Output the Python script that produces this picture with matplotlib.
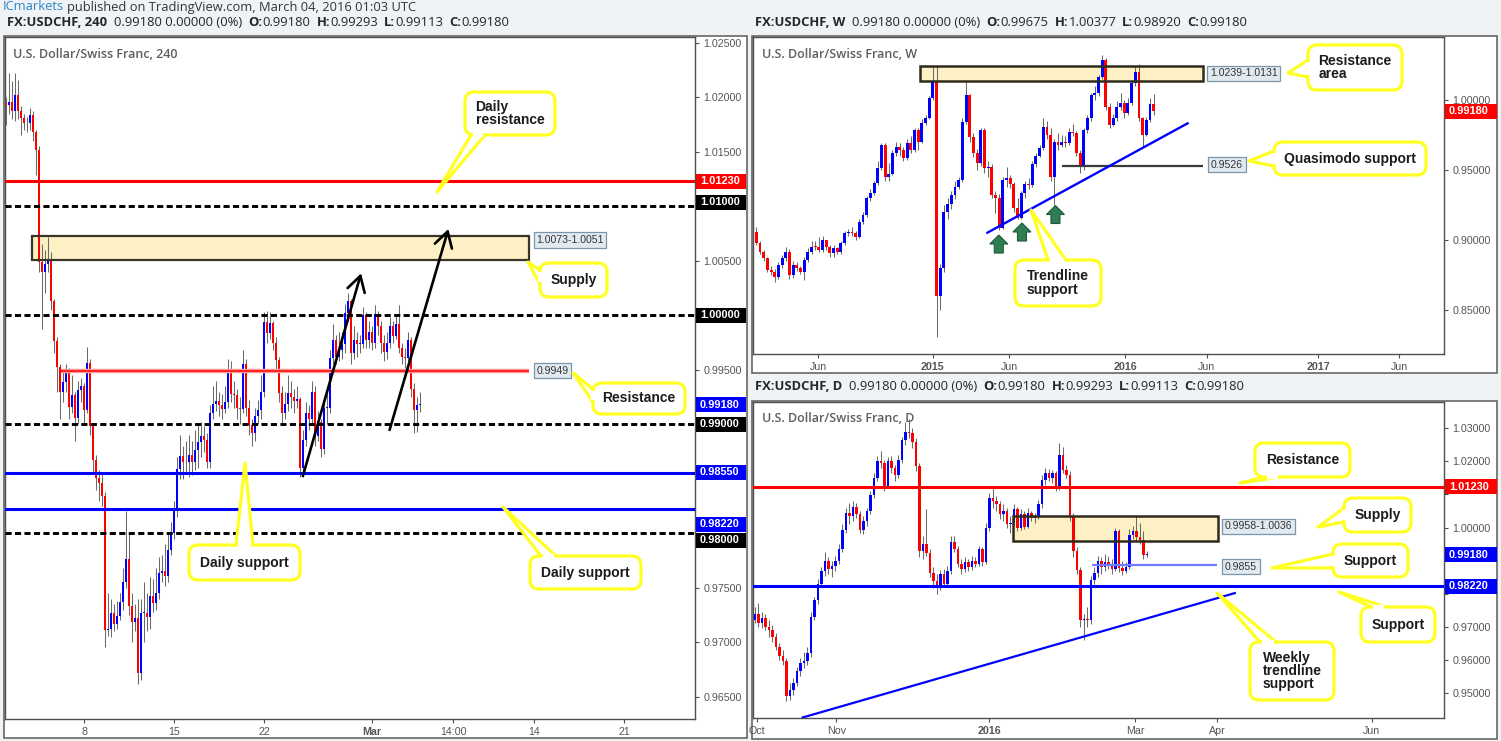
import matplotlib
matplotlib.use("Agg")
import matplotlib.pyplot as plt
import numpy as np
from matplotlib.patches import Rectangle, FancyBboxPatch, Polygon
from matplotlib.lines import Line2D
from matplotlib.transforms import IdentityTransform
from matplotlib.ticker import FuncFormatter

plt.rcParams['font.family'] = ['Liberation Sans', 'DejaVu Sans']

W, H = 1501, 741
PX = IdentityTransform()

# ---------------- 240 chart (x = 4h bar index, 0 = Feb 8 00:00) ----------------
h4_first = -26
h4_open0 = 1.0195
h4_close = [1.0193, 1.0196, 1.0187, 1.0202, 1.0187, 1.0181, 1.0176, 1.0176, 1.0184, 1.0168,
            1.0152, 1.0049, 1.0040, 1.0047, 1.0051, 1.0013, 0.9976, 0.9953, 0.9930, 0.9939,
            0.9948, 0.9916, 0.9927, 0.9906, 0.9931, 0.9935, 0.9913, 0.9956, 0.9898, 0.9867,
            0.9851, 0.9846, 0.9834, 0.9711, 0.9712, 0.9727, 0.9717, 0.9724, 0.9737, 0.9755,
            0.9776, 0.9733, 0.9719, 0.9722, 0.9672, 0.9727, 0.9727, 0.9723, 0.9742, 0.9736,
            0.9745, 0.9764, 0.9765, 0.9761, 0.9785, 0.9800, 0.9821, 0.9859, 0.9871, 0.9865,
            0.9865, 0.9872, 0.9865, 0.9876, 0.9884, 0.9889, 0.9886, 0.9865, 0.9910, 0.9919,
            0.9921, 0.9918, 0.9914, 0.9920, 0.9948, 0.9928, 0.9927, 0.9915, 0.9914, 0.9955,
            0.9915, 0.9899, 0.9892, 0.9908, 0.9913, 0.9930, 0.9994, 0.9984, 0.9993, 0.9975,
            0.9959, 0.9929, 0.9910, 0.9919, 0.9929, 0.9925, 0.9921, 0.9923, 0.9860, 0.9886,
            0.9910, 0.9905, 0.9930, 0.9889, 0.9902, 0.9877, 0.9915, 0.9915, 0.9961, 0.9977,
            0.9962, 0.9968, 0.9974, 1.0002, 1.0013, 0.9965, 0.9977, 0.9974, 0.9974, 1.0000,
            0.9977, 0.9985, 0.9975, 1.0001, 0.9990, 0.9975, 0.9966, 0.9975, 0.9990, 0.9981,
            0.9992, 0.9970, 0.9962, 0.9961, 0.9977, 0.9932, 0.9913, 0.9918, 0.9918]
h4_high = [1.0200, 1.0222, 1.0215, 1.0222, 1.0216, 1.0192, 1.0185, 1.0182, 1.0190, 1.0187,
           1.0170, 1.0155, 1.0065, 1.0060, 1.0072, 1.0058, 1.0015, 0.9980, 0.9955, 0.9950,
           0.9955, 0.9952, 0.9945, 0.9930, 0.9940, 0.9942, 0.9938, 0.9971, 0.9960, 0.9900,
           0.9872, 0.9858, 0.9855, 0.9838, 0.9745, 0.9740, 0.9735, 0.9738, 0.9745, 0.9768,
           0.9820, 0.9800, 0.9745, 0.9735, 0.9740, 0.9740, 0.9755, 0.9745, 0.9760, 0.9758,
           0.9768, 0.9778, 0.9780, 0.9790, 0.9800, 0.9810, 0.9830, 0.9870, 0.9890, 0.9880,
           0.9885, 0.9890, 0.9885, 0.9895, 0.9900, 0.9902, 0.9898, 0.9892, 0.9918, 0.9935,
           0.9940, 0.9930, 0.9928, 0.9935, 0.9960, 0.9958, 0.9940, 0.9932, 0.9925, 0.9968,
           0.9960, 0.9922, 0.9905, 0.9915, 0.9922, 0.9945, 1.0003, 1.0004, 1.0003, 0.9995,
           0.9980, 0.9962, 0.9935, 0.9930, 0.9945, 0.9940, 0.9932, 0.9935, 0.9925, 0.9895,
           0.9920, 0.9918, 0.9940, 0.9935, 0.9912, 0.9905, 0.9925, 0.9928, 0.9968, 0.9992,
           0.9982, 0.9985, 0.9985, 1.0010, 1.0020, 1.0015, 0.9990, 0.9985, 0.9982, 1.0008,
           1.0003, 0.9995, 0.9990, 1.0009, 1.0004, 0.9995, 0.9982, 0.9985, 0.9998, 0.9995,
           1.0001, 1.0009, 0.9975, 0.9970, 0.9985, 0.9980, 0.9938, 0.9925, 0.99293]
h4_low = [1.0175, 1.0185, 1.0180, 1.0178, 1.0180, 1.0165, 1.0170, 1.0168, 1.0170, 1.0160,
          1.0129, 1.0040, 0.9987, 1.0020, 1.0040, 1.0005, 0.9965, 0.9930, 0.9905, 0.9920,
          0.9930, 0.9905, 0.9910, 0.9885, 0.9900, 0.9920, 0.9900, 0.9910, 0.9890, 0.9855,
          0.9840, 0.9830, 0.9825, 0.9696, 0.9706, 0.9705, 0.9710, 0.9712, 0.9720, 0.9730,
          0.9750, 0.9725, 0.9700, 0.9710, 0.9662, 0.9665, 0.9700, 0.9710, 0.9712, 0.9728,
          0.9730, 0.9740, 0.9755, 0.9752, 0.9755, 0.9780, 0.9795, 0.9815, 0.9850, 0.9850,
          0.9855, 0.9852, 0.9853, 0.9858, 0.9860, 0.9870, 0.9875, 0.9860, 0.9860, 0.9905,
          0.9912, 0.9908, 0.9905, 0.9910, 0.9915, 0.9920, 0.9915, 0.9905, 0.9900, 0.9910,
          0.9908, 0.9890, 0.9880, 0.9885, 0.9900, 0.9905, 0.9925, 0.9975, 0.9978, 0.9968,
          0.9950, 0.9920, 0.9900, 0.9905, 0.9912, 0.9915, 0.9910, 0.9915, 0.9852, 0.9852,
          0.9880, 0.9895, 0.9900, 0.9880, 0.9885, 0.9870, 0.9873, 0.9900, 0.9910, 0.9955,
          0.9955, 0.9958, 0.9960, 0.9965, 0.9995, 0.9955, 0.9960, 0.9962, 0.9965, 0.9970,
          0.9970, 0.9970, 0.9968, 0.9970, 0.9982, 0.9965, 0.9958, 0.9960, 0.9970, 0.9975,
          0.9978, 0.9965, 0.9955, 0.9952, 0.9958, 0.9925, 0.9892, 0.9893, 0.99113]
h4_ticks = [0, 30, 60, 96, 123, 150, 180]
h4_ticklabels = ['8', '15', '22', 'Mar', '14:00', '14', '21']
h4_bold_ticks = ['Mar']
h4_dashed = [1.0100, 1.0000, 0.9900, 0.9800]
h4_daily_res = 1.0123
h4_daily_sup = [0.9855, 0.9822]
h4_res = 0.9949
h4_supply = (1.0051, 1.0073)

# ---------------- weekly chart (x = week index, 0 = first week of 2015) ----------------
wk_first = -48
wk_open0 = 0.9057
wk_close = [0.8974, 0.8914, 0.8866, 0.8783, 0.8771, 0.8735, 0.8819, 0.8866, 0.8914, 0.8747,
            0.8819, 0.8795, 0.8771, 0.8855, 0.8914, 0.8950, 0.8948, 0.8926, 0.8998, 0.8950,
            0.8902, 0.8938, 0.8914, 0.8974, 0.9045, 0.9057, 0.9045, 0.9021, 0.9129, 0.9176,
            0.9295, 0.9331, 0.9402, 0.9510, 0.9677, 0.9450, 0.9470, 0.9617, 0.9664, 0.9640,
            0.9581, 0.9688, 0.9640, 0.9783, 0.9700, 0.9835, 0.9867, 1.0010, 1.0129, 0.8600,
            0.8796, 0.9200, 0.9257, 0.9317, 0.9376, 0.9426, 0.9843, 1.0033, 0.9736, 0.9617,
            0.9550, 0.9783, 0.9510, 0.9520, 0.9317, 0.9300, 0.9081, 0.9430, 0.9440, 0.9400,
            0.9223, 0.9155, 0.9331, 0.9400, 0.9390, 0.9540, 0.9600, 0.9652, 0.9808, 0.9750,
            0.9450, 0.9700, 0.9677, 0.9700, 0.9690, 0.9771, 0.9760, 0.9617, 0.9522, 0.9783,
            0.9867, 1.0033, 1.0045, 1.0165, 1.0284, 0.9950, 0.9819, 0.9867, 0.9950, 0.9974,
            0.9902, 0.9974, 1.0117, 1.0200, 0.9867, 0.9748, 0.9855, 0.99675, 0.9918]
wk_high = [0.9090, 0.8990, 0.8930, 0.8880, 0.8810, 0.8790, 0.8840, 0.8890, 0.8950, 0.8935,
           0.8850, 0.8840, 0.8810, 0.8880, 0.8940, 0.8990, 0.8990, 0.9020, 0.9030, 0.9000,
           0.8960, 0.8960, 0.8950, 0.8990, 0.9060, 0.9080, 0.9090, 0.9060, 0.9150, 0.9200,
           0.9310, 0.9360, 0.9420, 0.9560, 0.9690, 0.9690, 0.9550, 0.9640, 0.9700, 0.9690,
           0.9660, 0.9720, 0.9740, 0.9800, 0.9800, 0.9860, 0.9890, 1.0030, 1.0239, 1.0239,
           0.8830, 0.9250, 0.9300, 0.9350, 0.9420, 0.9450, 0.9870, 1.0127, 1.0040, 0.9760,
           0.9650, 0.9800, 0.9800, 0.9560, 0.9540, 0.9350, 0.9330, 0.9450, 0.9520, 0.9460,
           0.9410, 0.9300, 0.9350, 0.9420, 0.9440, 0.9560, 0.9620, 0.9680, 0.9867, 0.9850,
           0.9800, 0.9720, 0.9760, 0.9750, 0.9740, 0.9800, 0.9830, 0.9780, 0.9640, 0.9800,
           0.9890, 1.0050, 1.0100, 1.0180, 1.0320, 1.0300, 0.9980, 0.9900, 0.9990, 1.0050,
           1.0000, 1.0010, 1.0140, 1.0240, 1.0257, 0.9880, 0.9880, 1.0010, 1.00377]
wk_low = [0.8960, 0.8895, 0.8850, 0.8770, 0.8750, 0.8700, 0.8720, 0.8800, 0.8850, 0.8720,
          0.8730, 0.8780, 0.8755, 0.8712, 0.8840, 0.8900, 0.8930, 0.8910, 0.8910, 0.8930,
          0.8880, 0.8880, 0.8900, 0.8900, 0.8960, 0.9030, 0.9030, 0.9000, 0.9010, 0.9110,
          0.9160, 0.9280, 0.9320, 0.9390, 0.9500, 0.9420, 0.9420, 0.9460, 0.9600, 0.9600,
          0.9560, 0.9570, 0.9620, 0.9630, 0.9640, 0.9690, 0.9820, 0.9860, 1.0000, 0.8305,
          0.8500, 0.8770, 0.9150, 0.9220, 0.9290, 0.9360, 0.9410, 0.9830, 0.9700, 0.9590,
          0.9500, 0.9530, 0.9480, 0.9450, 0.9300, 0.9190, 0.9072, 0.9080, 0.9380, 0.9370,
          0.9200, 0.9151, 0.9150, 0.9300, 0.9360, 0.9380, 0.9520, 0.9590, 0.9640, 0.9720,
          0.9420, 0.9248, 0.9640, 0.9660, 0.9660, 0.9680, 0.9740, 0.9600, 0.9478, 0.9500,
          0.9760, 0.9850, 1.0000, 1.0030, 1.0150, 0.9930, 0.9800, 0.9810, 0.9850, 0.9930,
          0.9870, 0.9890, 0.9960, 1.0100, 0.9850, 0.9664, 0.9740, 0.9840, 0.9892]
wk_ticks = [-31.2, 0, 20.8, 52.2, 74.4, 104.7, 126.7]
wk_ticklabels = ['Jun', '2015', 'Jun', '2016', 'Jun', '2017', 'Jun']
wk_bold_ticks = ['2015', '2016', '2017']
wk_zone = (1.0131, 1.0239)
wk_qm = 0.9526
wk_trend = [(14.8, 0.9050), (69.2, 0.9831)]
wk_marks = [(17.9, 0.8969), (24.2, 0.9055), (33.3, 0.9180)]

# ---------------- daily chart (x = weekday index, 0 = Jan 1 2016) ----------------
d_first = -67
d_open0 = 0.9722
d_close = [0.9740, 0.9712, 0.9728, 0.9700, 0.9690, 0.9668, 0.9640, 0.9612, 0.9598, 0.9492,
           0.9510, 0.9530, 0.9566, 0.9590, 0.9598, 0.9620, 0.9730, 0.9780, 0.9830, 0.9868,
           0.9900, 0.9875, 0.9885, 0.9900, 0.9935, 0.9994, 1.0043, 1.0035, 1.0063, 1.0040,
           0.9994, 1.0020, 1.0049, 1.0099, 1.0150, 1.0200, 1.0195, 1.0124, 1.0200, 1.0180,
           1.0160, 1.0205, 1.0265, 1.0290, 1.0286, 1.0260, 1.0185, 0.9929, 0.9950, 0.9924,
           0.9862, 0.9840, 0.9822, 0.9860, 0.9830, 0.9870, 0.9957, 0.9935, 0.9890, 0.9875,
           0.9895, 0.9880, 0.9900, 0.9890, 0.9935, 0.9895, 1.0000, 1.0090, 1.0080, 1.0070,
           1.0040, 1.0050, 1.0010, 1.0015, 1.0055, 1.0000, 1.0040, 1.0003, 1.0043, 1.0030,
           1.0033, 1.0070, 1.0145, 1.0165, 1.0150, 1.0165, 1.0120, 1.0220, 1.0175, 1.0160,
           1.0033, 0.9929, 0.9872, 0.9721, 0.9725, 0.9720, 0.9842, 0.9862, 0.9900, 0.9880,
           0.9895, 0.9890, 0.9875, 0.9990, 0.9877, 0.9870, 0.9880, 0.9978, 0.9989, 0.9973,
           0.9963, 0.9918, 0.9918]
d_high = [0.9760, 0.9772, 0.9745, 0.9738, 0.9720, 0.9705, 0.9680, 0.9652, 0.9630, 0.9605,
          0.9530, 0.9545, 0.9580, 0.9605, 0.9625, 0.9640, 0.9745, 0.9790, 0.9845, 0.9880,
          0.9925, 0.9910, 0.9900, 0.9915, 0.9950, 1.0010, 1.0060, 1.0075, 1.0080, 1.0075,
          1.0050, 1.0035, 1.0060, 1.0110, 1.0165, 1.0215, 1.0230, 1.0205, 1.0212, 1.0215,
          1.0190, 1.0220, 1.0275, 1.0318, 1.0328, 1.0300, 1.0270, 1.0195, 0.9975, 1.0055,
          0.9935, 0.9880, 0.9860, 0.9872, 0.9875, 0.9885, 0.9975, 0.9975, 0.9945, 0.9905,
          0.9910, 0.9905, 0.9915, 0.9910, 0.9945, 0.9940, 1.0015, 1.0105, 1.0120, 1.0095,
          1.0080, 1.0070, 1.0060, 1.0035, 1.0070, 1.0062, 1.0055, 1.0050, 1.0058, 1.0050,
          1.0045, 1.0082, 1.0160, 1.0180, 1.0178, 1.0175, 1.0172, 1.0255, 1.0245, 1.0190,
          1.0170, 1.0045, 0.9940, 0.9880, 0.9740, 0.9760, 0.9855, 0.9880, 0.9915, 0.9912,
          0.9920, 0.9915, 0.9905, 1.0000, 0.9995, 0.9900, 0.9895, 0.9995, 1.0005, 1.0037,
          1.0015, 0.9990, 0.99293]
d_low = [0.9712, 0.9700, 0.9695, 0.9690, 0.9670, 0.9655, 0.9630, 0.9600, 0.9585, 0.9476,
         0.9480, 0.9495, 0.9520, 0.9550, 0.9575, 0.9585, 0.9610, 0.9720, 0.9770, 0.9820,
         0.9855, 0.9860, 0.9850, 0.9870, 0.9890, 0.9925, 0.9985, 1.0010, 1.0020, 1.0030,
         0.9985, 0.9980, 1.0005, 1.0040, 1.0090, 1.0140, 1.0180, 1.0110, 1.0120, 1.0165,
         1.0140, 1.0150, 1.0195, 1.0250, 1.0270, 1.0240, 1.0170, 0.9910, 0.9905, 0.9915,
         0.9850, 0.9818, 0.9800, 0.9812, 0.9820, 0.9822, 0.9860, 0.9925, 0.9880, 0.9860,
         0.9865, 0.9870, 0.9872, 0.9880, 0.9885, 0.9885, 0.9890, 0.9990, 1.0060, 1.0050,
         1.0025, 1.0020, 1.0000, 0.9985, 1.0005, 0.9990, 0.9992, 0.9995, 0.9998, 1.0020,
         1.0015, 1.0025, 1.0060, 1.0130, 1.0140, 1.0135, 1.0110, 1.0115, 1.0165, 1.0150,
         1.0020, 0.9910, 0.9860, 0.9700, 0.9661, 0.9700, 0.9710, 0.9830, 0.9850, 0.9860,
         0.9870, 0.9875, 0.9860, 0.9870, 0.9865, 0.9858, 0.9862, 0.9875, 0.9965, 0.9960,
         0.9950, 0.9905, 0.99113]
d_ticks = [-66.4, -43.8, 0, 41.7, 65, 109.2]
d_ticklabels = ['Oct', 'Nov', '2016', 'Mar', 'Apr', 'Jun']
d_bold_ticks = ['2016']
d_res = 1.0123
d_sup = 0.9822
d_zone = (0.9958, 1.0036)
d_minor_sup = 0.9888
d_trend = [(-53.4, 0.9426), (70.1, 0.9802)]

# ---------------- helpers ----------------
fig = plt.figure(figsize=(W / 100, H / 100), dpi=100)
fig.patch.set_facecolor('#f0f3f6')
R = fig.canvas.get_renderer()


def make_panel(outer, plot, xlim, ylim, yticks, xticks, xlabels, bold, hidden=()):
    x0, y0, x1, y1 = outer
    fig.add_artist(Rectangle((x0, H - y1), x1 - x0, y1 - y0, transform=PX,
                             fc='white', ec='#5a5a5a', lw=1.1, zorder=-5))
    px0, py0, px1, py1 = plot
    ax = fig.add_axes([px0 / W, 1 - py1 / H, (px1 - px0) / W, (py1 - py0) / H])
    ax.set_xlim(*xlim)
    ax.set_ylim(*ylim)
    for s in ax.spines.values():
        s.set_color('#4f4f4f')
        s.set_linewidth(1.0)
    ax.yaxis.tick_right()
    ax.set_yticks(yticks)
    # labels that sit under a price tag are left out
    ax.yaxis.set_major_formatter(FuncFormatter(
        lambda v, p: '' if any(abs(v - hv) < 1e-6 for hv in hidden) else f'{v:.5f}'))
    ax.set_xticks(xticks)
    ax.set_xticklabels(xlabels)
    for t in ax.get_xticklabels():
        if t.get_text() in bold:
            t.set_fontweight('bold')
    ax.tick_params(axis='both', colors='#4f4f4f', labelcolor='#555555',
                   labelsize=7.7, length=3, width=0.8, pad=3)
    return ax


def draw_candles(ax, first, open0, close, high, low, width, min_h):
    x = np.arange(first, first + len(close))
    c = np.asarray(close, float)
    o = np.r_[open0, c[:-1]]
    ax.vlines(x, low, high, color='#6a6a6a', lw=0.75, zorder=3)
    cols = np.where(c >= o, '#0000ff', '#ff0000')
    ax.bar(x, np.maximum(np.abs(c - o), min_h), width, np.minimum(o, c),
           color=cols, linewidth=0, zorder=4)


def axis_tag(ax, price, text, color, dy=0, width=50):
    xa, ya = ax.transData.transform((ax.get_xlim()[1], price))
    ya -= dy
    fig.add_artist(Rectangle((xa + 1, ya - 7.5), width, 15, transform=PX,
                             fc=color, ec='none', zorder=30))
    fig.text((xa + 5) / W, ya / H, text, color='white', fontsize=7.9,
             fontweight='bold', va='center', ha='left', zorder=31)


def level_label(ax, x, price, text):
    ax.text(x, price, text, fontsize=7.6, color='#333333', va='center', ha='left', zorder=12,
            bbox=dict(boxstyle='square,pad=0.25', fc='#e2eaf1', ec='#7d95a8', lw=0.9))


def callout(box, tip, base, text, size=10):
    x0, y0, x1, y1 = box
    edge = '#ffff22'
    b = [(bx, H - by) for bx, by in base]
    t = (tip[0], H - tip[1])
    fig.add_artist(Polygon([b[0], t, b[1]], closed=True, transform=PX, fc='white',
                           ec=edge, lw=2.3, zorder=40, joinstyle='round'))
    fig.add_artist(FancyBboxPatch((x0, H - y1), x1 - x0, y1 - y0,
                                  boxstyle='round,pad=0,rounding_size=9', transform=PX,
                                  fc='white', ec=edge, lw=2.3, zorder=41))
    (ax_, ay_), (bx_, by_) = b
    dx, dy = bx_ - ax_, by_ - ay_
    s = 2.2 / np.hypot(dx, dy)
    fig.add_artist(Line2D([ax_ + dx * s, bx_ - dx * s], [ay_ + dy * s, by_ - dy * s],
                          transform=PX, color='white', lw=3.2, zorder=42,
                          solid_capstyle='butt'))
    fig.text((x0 + x1) / 2 / W, 1 - (y0 + y1) / 2 / H, text, ha='center', va='center',
             multialignment='left', fontsize=size, fontweight='bold', color='#1c1c1c',
             linespacing=0.95, zorder=43)


def rich(x, y, parts, size=9.4, family='Open Sans'):
    for s, bold, col, gap in parts:
        t = fig.text(x / W, 1 - y / H, s, fontsize=size, color=col, family=family,
                     fontweight='bold' if bold else 'normal', va='center', ha='left')
        x += t.get_window_extent(R).width + gap


def up_arrow(ax, x, p):
    cx, cy = ax.transData.transform((x, p))
    v = [(0, 9), (9, 0), (4.5, 0), (4.5, -9), (-4.5, -9), (-4.5, 0), (-9, 0)]
    fig.add_artist(Polygon([(cx + a, cy + b) for a, b in v], closed=True, transform=PX,
                           fc='#2f7d52', ec='#1f5a39', lw=0.8, zorder=35))


def title_line(x, y, tf, o, h, l, c):
    dark = '#262626'
    rich(x, y, [(f'FX:USDCHF, {tf}', True, dark, 7), ('0.99180 0.00000 (0%)', False, dark, 6),
                ('O:', True, dark, 0), (o, False, dark, 6), ('H:', True, dark, 0), (h, False, dark, 6),
                ('L:', True, dark, 0), (l, False, dark, 6), ('C:', True, dark, 0), (c, False, dark, 0)])


# ---------------- header ----------------
rich(3, 7, [('ICmarkets', False, '#2a86c6', 3),
            ('published on TradingView.com, March 04, 2016 01:03 UTC', False, '#333333', 0)],
     size=9.3)
title_line(7, 23, '240', '0.99180', '0.99293', '0.99113', '0.99180')
title_line(755, 23, 'W', '0.99675', '1.00377', '0.98920', '0.99180')
title_line(755, 386, 'D', '0.99180', '0.99293', '0.99113', '0.99180')

dash = (0, (2.1, 1.15))

# ---------------- 240 panel ----------------
ax1 = make_panel((4, 36, 747, 738), (5, 37, 695, 719), (-26.4, 203.6), (0.96296, 1.02553),
                 np.arange(0.965, 1.0251, 0.005), h4_ticks, h4_ticklabels, h4_bold_ticks,
                 hidden=(1.01, 1.0, 0.99, 0.98, 0.985))
ax1.text(8 / 690, 1 - 17 / 682, 'U.S. Dollar/Swiss Franc, 240', transform=ax1.transAxes,
         family='Open Sans', fontweight='semibold', fontsize=9, color='#5e5e5e', va='center')
ax1.add_patch(Rectangle((-17.4, h4_supply[0]), 165.8, h4_supply[1] - h4_supply[0],
                        fc='#fdf0c4', ec='none', zorder=1))
draw_candles(ax1, h4_first, h4_open0, h4_close, h4_high, h4_low, 0.85, 0.00008)
ax1.add_patch(Rectangle((-17.4, h4_supply[0]), 165.8, h4_supply[1] - h4_supply[0],
                        fc='none', ec='#3a3626', lw=1.6, zorder=6))
ax1.axhline(h4_daily_res, color='#ff0000', lw=2.2, zorder=6)
for lv in h4_dashed:
    ax1.axhline(lv, color='black', lw=2.1, ls=dash, zorder=6)
for lv in h4_daily_sup:
    ax1.axhline(lv, color='#0000ff', lw=2.2, zorder=6)
ax1.hlines(h4_res, -7.7, 148.4, color='#ff9a9a', lw=3.2, zorder=5)
ax1.hlines(h4_res, -7.7, 148.4, color='#ff0000', lw=1.1, zorder=6)
level_label(ax1, 150.7, 1.00691, '1.0073-1.0051')
level_label(ax1, 150.7, h4_res, '0.9949')
for tail, tip in [((72.9, 0.98526), (92.3, 1.00385)), ((101.8, 0.98948), (121.4, 1.00792))]:
    ax1.annotate('', xy=tip, xytext=tail, zorder=8,
                 arrowprops=dict(arrowstyle='->,head_length=0.55,head_width=0.32', lw=1.9,
                                 color='black', shrinkA=0, shrinkB=0, mutation_scale=20))

axis_tag(ax1, 1.0123, '1.01230', '#ff0000')
axis_tag(ax1, 1.0100, '1.01000', '#000000', dy=-4)
axis_tag(ax1, 1.0000, '1.00000', '#000000')
axis_tag(ax1, 0.9918, '0.99180', '#0000ff')
axis_tag(ax1, 0.9900, '0.99000', '#000000')
axis_tag(ax1, 0.9855, '0.98550', '#0000ff', dy=-1)
axis_tag(ax1, 0.9822, '0.98220', '#0000ff', dy=15)
axis_tag(ax1, 0.9800, '0.98000', '#000000', dy=7)

# ---------------- weekly panel ----------------
ax2 = make_panel((752, 36, 1497, 373), (753, 37, 1444, 354), (-48.9, 138.9), (0.81836, 1.04479),
                 [0.85, 0.90, 0.95, 1.00], wk_ticks, wk_ticklabels, wk_bold_ticks)
ax2.text(9 / 691, 1 - 17 / 317, 'U.S. Dollar/Swiss Franc, W', transform=ax2.transAxes,
         family='Open Sans', fontweight='semibold', fontsize=9, color='#5e5e5e', va='center')
ax2.add_patch(Rectangle((-3.5, wk_zone[0]), 76.8, wk_zone[1] - wk_zone[0],
                        fc='#fdf0c4', ec='none', zorder=1))
draw_candles(ax2, wk_first, wk_open0, wk_close, wk_high, wk_low, 0.8, 0.0006)
ax2.add_patch(Rectangle((-3.5, wk_zone[0]), 76.8, wk_zone[1] - wk_zone[0],
                        fc='none', ec='#2e2a1c', lw=1.8, zorder=6))
ax2.hlines(wk_qm, 35, 73.3, color='#3a3a3a', lw=1.6, zorder=6)
ax2.plot(*zip(*wk_trend), color='#0000ff', lw=1.7, zorder=6)
level_label(ax2, 75.3, 1.0189, '1.0239-1.0131')
level_label(ax2, 75.6, 0.9537, '0.9526')
for x, p in wk_marks:
    up_arrow(ax2, x, p)
axis_tag(ax2, 0.9918, '0.99180', '#ff0000', width=52)

# ---------------- daily panel ----------------
ax3 = make_panel((752, 401, 1497, 739), (753, 402, 1444, 718), (-67.57, 129.86), (0.94245, 1.03795),
                 np.arange(0.95, 1.0301, 0.01), d_ticks, d_ticklabels, d_bold_ticks,
                 hidden=(1.01, 0.99, 0.98))
ax3.text(9 / 691, 1 - 16 / 316, 'U.S. Dollar/Swiss Franc, D', transform=ax3.transAxes,
         family='Open Sans', fontweight='semibold', fontsize=9, color='#5e5e5e', va='center')
ax3.add_patch(Rectangle((6.8, d_zone[0]), 58.6, d_zone[1] - d_zone[0],
                        fc='#fdf0c4', ec='none', zorder=1))
draw_candles(ax3, d_first, d_open0, d_close, d_high, d_low, 0.8, 0.0003)
ax3.add_patch(Rectangle((6.8, d_zone[0]), 58.6, d_zone[1] - d_zone[0],
                        fc='none', ec='#2e2a1c', lw=1.8, zorder=6))
ax3.axhline(d_res, color='#ff0000', lw=2.2, zorder=6)
ax3.axhline(d_sup, color='#0000ff', lw=2.2, zorder=6)
ax3.hlines(d_minor_sup, 29.2, 64.9, color='#6f7cff', lw=1.6, zorder=6)
ax3.plot(*zip(*d_trend), color='#0000ff', lw=1.6, zorder=6)
level_label(ax3, 67.3, 1.00036, '0.9958-1.0036')
level_label(ax3, 67.3, 0.98813, '0.9855')
axis_tag(ax3, 1.0123, '1.01230', '#ff0000', width=52)
axis_tag(ax3, 0.9918, '0.99180', '#0000ff', width=52)
axis_tag(ax3, 0.9822, '0.98220', '#0000ff', width=52)

# ---------------- callouts ----------------
callouts = [
    ((465, 92, 555, 135), (437, 192), [(471, 135), (485, 135)], 'Daily\nresistance'),
    ((540, 263, 607, 297), (528, 262), [(540, 270), (540, 284)], 'Supply'),
    ((593, 383, 685, 414), (573, 373), [(593, 389), (593, 402)], 'Resistance'),
    ((189, 545, 300, 580), (245, 463), [(236, 545), (253, 545)], 'Daily support'),
    ((530, 556, 641, 589), (503, 507), [(541, 556), (556, 556)], 'Daily support'),
    ((1308, 45, 1402, 90), (1288, 73), [(1308, 60), (1308, 77)], 'Resistance\narea'),
    ((1274, 142, 1426, 175), (1249, 161), [(1274, 151), (1274, 166)], 'Quasimodo support'),
    ((1015, 260, 1101, 306), (1031, 210), [(1048, 260), (1066, 260)], 'Trendline\nsupport'),
    ((1255, 443, 1350, 477), (1240, 483), [(1265, 477), (1280, 477)], 'Resistance'),
    ((1344, 498, 1411, 532), (1318, 527), [(1344, 508), (1344, 522)], 'Supply'),
    ((1333, 544, 1408, 577), (1272, 568), [(1333, 554), (1333, 568)], 'Support'),
    ((1361, 607, 1435, 642), (1339, 592), [(1371, 607), (1386, 607)], 'Support'),
    ((1250, 642, 1334, 700), (1217, 593), [(1260, 642), (1276, 642)], 'Weekly\ntrendline\nsupport'),
]
for box, tip, base, text in callouts:
    callout(box, tip, base, text)

fig.savefig('out.png', dpi=100)
